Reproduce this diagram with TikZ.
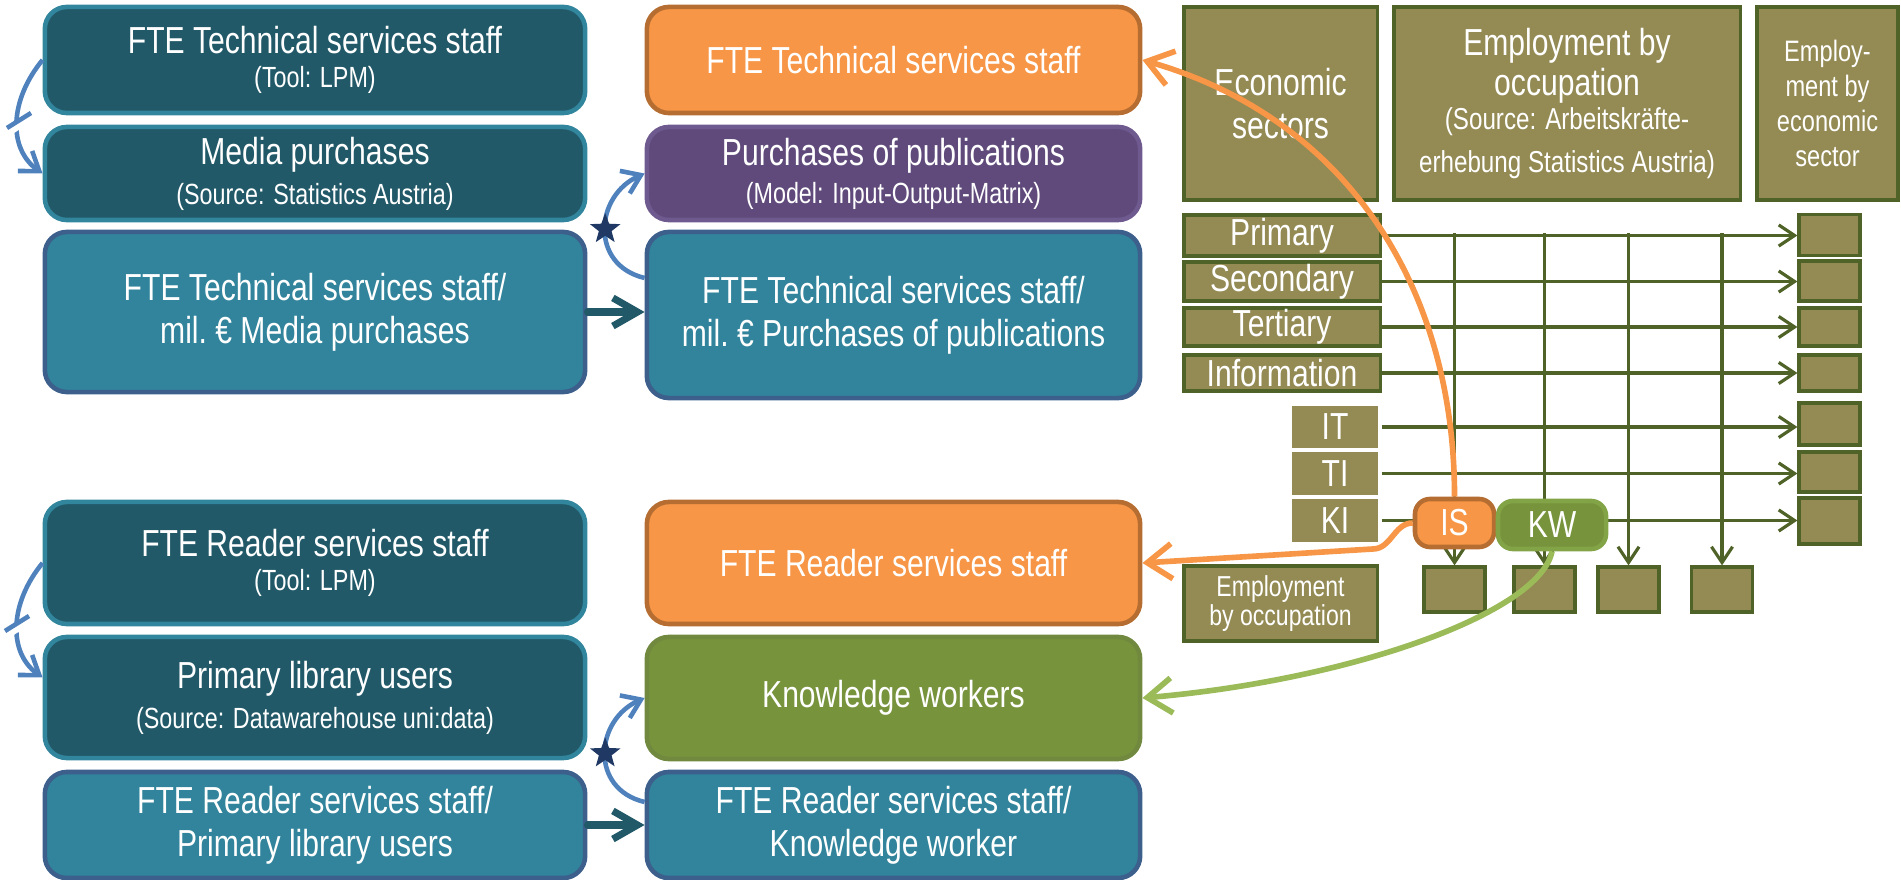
\documentclass[tikz,border=0pt]{standalone}
\usepackage{fontspec}
\setmainfont{Liberation Sans}[FakeStretch=0.8]
\usetikzlibrary{arrows.meta,shapes.geometric}

\definecolor{tealdark}{HTML}{215968}
\definecolor{tealline}{HTML}{31859C}
\definecolor{bluefill}{HTML}{31849B}
\definecolor{blueline}{HTML}{3C5F8C}
\definecolor{orangefill}{HTML}{F79646}
\definecolor{orangeline}{HTML}{B66D31}
\definecolor{purplefill}{HTML}{604A7B}
\definecolor{purpleline}{HTML}{6E5A8E}
\definecolor{greenfill}{HTML}{77933C}
\definecolor{greenline}{HTML}{71893F}
\definecolor{kwline}{HTML}{82A346}
\definecolor{olivefill}{HTML}{948A54}
\definecolor{oliveline}{HTML}{4F6228}
\definecolor{curveblue}{HTML}{4F81BD}
\definecolor{starnavy}{HTML}{1F3864}
\definecolor{lightgreen}{HTML}{9BBB59}

\newcommand\boxfont{\fontsize{10.7}{12.2}\selectfont}
\newcommand\notefont{\fontsize{8.3}{10.2}\selectfont}
\newcommand\srcfont{\fontsize{8.6}{10}\selectfont}

\tikzset{
  card/.style={rounded corners=2.2mm, line width=1.3pt, text=white, align=center, font=\boxfont, inner sep=2pt},
  leftcard/.style={card, minimum width=5.4cm},
  midcard/.style={card, minimum width=4.93cm},
  olive/.style={fill=olivefill, draw=oliveline, line width=0.9pt, text=white, align=center, inner sep=0pt, font=\boxfont},
  gridline/.style={oliveline, line width=0.9pt, -{Straight Barb[length=4.5pt,width=6pt]}},
  loopback/.style={curveblue, line width=1.3pt, -{Straight Barb[length=5pt,width=7pt]}},
  push/.style={tealdark, line width=2pt, line cap=round, -{Straight Barb[length=7pt,width=8pt]}},
  flowout/.style={orangefill, line width=1.6pt, -{Straight Barb[length=7pt,width=10pt]}},
  flowin/.style={lightgreen, line width=1.6pt, -{Straight Barb[length=7pt,width=10pt]}},
  starmark/.style={star, star points=5, star point ratio=2.4, fill=starnavy, inner sep=0pt, minimum size=3.2mm},
}

\begin{document}
\begin{tikzpicture}[x=0.01cm, y=-0.01cm]
	\useasboundingbox (0,0) rectangle (1901,880);
	
	% technical services
	\node[leftcard, fill=tealdark, draw=tealline, minimum height=1.06cm] (techstaff) at (315,60) {FTE Technical services staff\\[-2.6pt]{\notefont (Tool: LPM)}};
	\node[leftcard, fill=tealdark, draw=tealline, minimum height=0.93cm] (mediapurch) at (315,173.5) {Media purchases\\[-0.8pt]{\notefont (Source: Statistics Austria)}};
	\node[leftcard, fill=bluefill, draw=blueline, minimum height=1.6cm] (techratio) at (315,312) {FTE Technical services staff/\\mil.~€ Media purchases};
	
	\node[midcard, fill=orangefill, draw=orangeline, minimum height=1.06cm] (techout) at (893.5,60) {FTE Technical services staff};
	\node[midcard, fill=purplefill, draw=purpleline, minimum height=0.93cm] (pubpurch) at (893.5,173.5) {Purchases of publications\\[-1.4pt]{\notefont (Model: Input-Output-Matrix)}};
	\node[midcard, fill=bluefill, draw=blueline, minimum height=1.66cm] (techpub) at (893.5,315) {FTE Technical services staff/\\mil.~€ Purchases of publications};
	
	% reader services
	\node[leftcard, fill=tealdark, draw=tealline, minimum height=1.22cm] (readstaff) at (315,563) {FTE Reader services staff\\[-2.4pt]{\notefont (Tool: LPM)}};
	\node[leftcard, fill=tealdark, draw=tealline, minimum height=1.21cm] (libusers) at (315,697.5) {Primary library users\\[-0.8pt]{\notefont (Source: Datawarehouse uni:data)}};
	\node[leftcard, fill=bluefill, draw=blueline, minimum height=1.06cm] (readratio) at (315,825) {FTE Reader services staff/\\Primary library users};
	
	\node[midcard, fill=orangefill, draw=orangeline, minimum height=1.22cm] (readout) at (893.5,563) {FTE Reader services staff};
	\node[midcard, fill=greenfill, draw=greenline, minimum height=1.22cm] (knowwork) at (893.5,698) {Knowledge workers};
	\node[midcard, fill=bluefill, draw=blueline, minimum height=1.06cm] (readknow) at (893.5,825) {FTE Reader services staff/\\Knowledge worker};
	
	% matrix of sectors and occupations
	\node[olive, minimum width=1.93cm, minimum height=1.93cm] (econ) at (1280.5,103.5) {Economic\\sectors};
	\node[olive, minimum width=3.46cm, minimum height=1.93cm] (empocc) at (1567,103.5) {Employment by\\[-0.7pt]occupation\\[-2.4pt]{\srcfont (Source: Arbeitskräfte-}\\{\srcfont erhebung Statistics Austria)}};
	\node[olive, minimum width=1.41cm, minimum height=1.93cm, font=\fontsize{8.4}{10}\selectfont] (empsec) at (1827.5,103.5) {Employ-\\ment by\\economic\\sector};
	
	\node[olive, minimum width=1.96cm, minimum height=0.41cm] (primary) at (1282,235.5) {Primary};
	\node[olive, minimum width=1.96cm, minimum height=0.39cm] (secondary) at (1282,281.5) {Secondary};
	\node[olive, minimum width=1.96cm, minimum height=0.38cm] (tertiary) at (1282,327) {Tertiary};
	\node[olive, minimum width=1.96cm, minimum height=0.36cm] (information) at (1282,373) {Information};
	\node[olive, draw=white, minimum width=0.9cm, minimum height=0.46cm] (IT) at (1335,427) {IT};
	\node[olive, draw=white, minimum width=0.9cm, minimum height=0.47cm] (TI) at (1335,473.5) {TI};
	\node[olive, draw=white, minimum width=0.9cm, minimum height=0.47cm] (KI) at (1335,520.5) {KI};
	
	\foreach \k/\y/\h in {1/235/0.41, 2/281/0.4, 3/327/0.38, 4/373/0.36, 5/424/0.42, 6/472/0.4, 7/521/0.46}
		\node[olive, minimum width=0.61cm, minimum height=\h cm] (sec\k) at (1829.5,\y) {};
	\foreach \k/\x in {1/1454.5, 2/1544.5, 3/1628.5, 4/1722}
		\node[olive, minimum width=0.61cm, minimum height=0.45cm] (occ\k) at (\x,589.5) {};
	
	\node[olive, minimum width=1.93cm, minimum height=0.75cm, font=\fontsize{8.2}{10.5}\selectfont] (empocc2) at (1280.5,603.5) {Employment\\[-2pt]by occupation};
	
	\foreach \row/\k in {primary/1, secondary/2, tertiary/3, information/4, IT/5, TI/6, KI/7}
		\draw[gridline] (\row.east) -- (\row.east -| sec\k.west);
	\foreach \k/\x in {1/1454.5, 2/1544.5, 3/1628.5, 4/1722} {
		\coordinate (top\k) at (\x,233);
		\draw[gridline] (top\k) -- (occ\k.north);
	}
	
	\node[card, rounded corners=1.5mm, fill=orangefill, draw=orangeline, minimum width=0.79cm, minimum height=0.48cm, inner sep=0pt] (infsci) at (1454.5,523) {IS};
	\node[card, rounded corners=1.5mm, fill=greenfill, draw=kwline, minimum width=1.08cm, minimum height=0.48cm, inner sep=0pt] (kwork) at (1552,525) {KW};
	
	% ratios
	\draw[push] (techratio.east) -- (techratio.east -| techpub.west);
	\draw[push] (readratio.east) -- (readratio.east -| readknow.west);
	
	% loops
	\draw[loopback] (techstaff.west) .. controls +(-33,40) and +(-35,-25) .. (mediapurch.west);
	\draw[white, line width=2.5pt] (9,131) -- (33,116);
	\draw[curveblue, line width=1.3pt] (7,128) -- (31,113);
	\draw[loopback] (readstaff.west) .. controls +(-33,40) and +(-35,-25) .. ([yshift=2mm]libusers.west);
	\draw[white, line width=2.5pt] (7,634) -- (31,619);
	\draw[curveblue, line width=1.3pt] (5,631) -- (29,616);
	
	\draw[loopback] ([yshift=3.7mm]techpub.west) .. controls +(-55,-13) and +(-50,22) .. (pubpurch.west) node[starmark, pos=0.5] {};
	\draw[loopback] ([yshift=2.3mm]readknow.west) .. controls +(-55,-13) and +(-50,22) .. (knowwork.west) node[starmark, pos=0.5] {};
	
	% results
	\draw[flowout] (infsci.north) .. controls +(0,-211) and +(203,58) .. (techout.east);
	\draw[flowout] (infsci.west) to[out=180, in=0] ++(-40,26) -- (readout.east);
	\draw[flowin] (kwork.south) .. controls +(-12,61) and +(210,-18) .. (knowwork.east);
	
\end{tikzpicture}
\end{document}
